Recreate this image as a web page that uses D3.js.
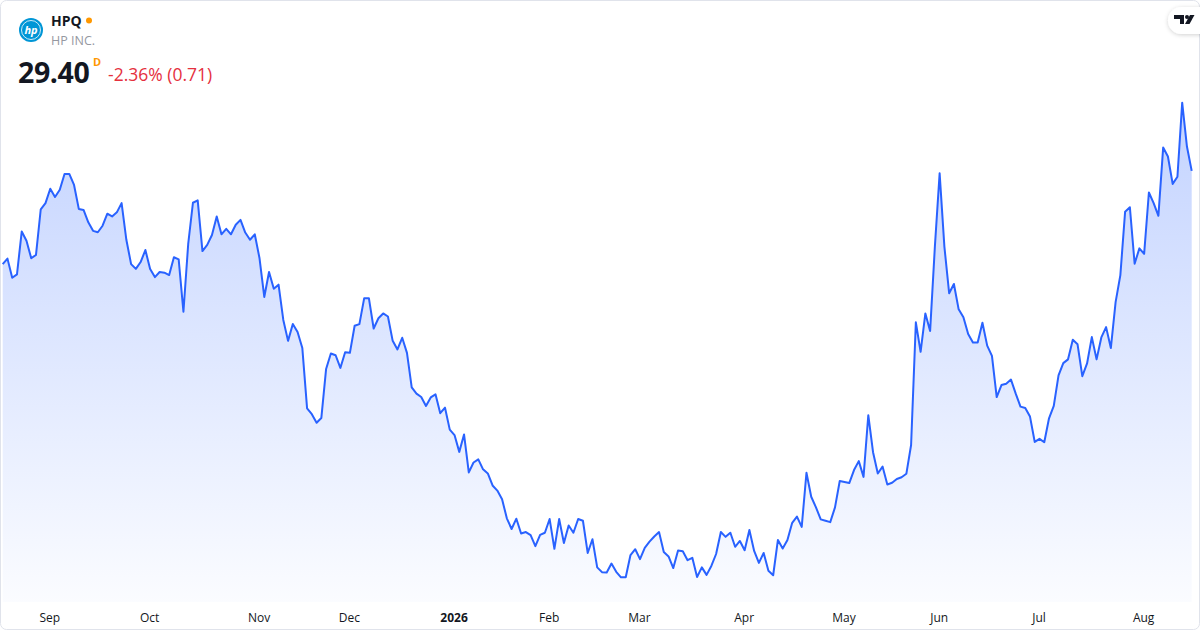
<!DOCTYPE html>
<html>
<head>
<meta charset="utf-8">
<title>HPQ</title>
<script src="https://cdn.jsdelivr.net/npm/d3@7"></script>
<style>
  body { margin: 0; background: #fff; font-family: 'Open Sans', sans-serif; }
  svg { display: block; }
  .axis text { font-size: 12px; fill: #131722; }
</style>
</head>
<body>
<svg id="chart" width="1200" height="630"></svg>
<script>
// daily closes, one per trading day
const closes = [
  26.68, 26.84, 26.28, 26.38, 27.63, 27.36, 26.85, 26.95, 28.28, 28.46,
  28.88, 28.64, 28.85, 29.31, 29.31, 28.99, 28.29, 28.26, 27.90, 27.65,
  27.61, 27.80, 28.15, 28.07, 28.19, 28.46, 27.39, 26.68, 26.54, 26.74,
  27.09, 26.54, 26.30, 26.45, 26.43, 26.36, 26.88, 26.82, 25.29, 27.26,
  28.47, 28.54, 27.06, 27.24, 27.53, 28.07, 27.55, 27.71, 27.55, 27.83,
  27.97, 27.60, 27.39, 27.55, 26.85, 25.72, 26.45, 25.96, 26.08, 25.05,
  24.44, 24.93, 24.70, 24.23, 22.47, 22.30, 22.05, 22.19, 23.62, 24.07,
  24.02, 23.65, 24.11, 24.09, 24.88, 24.93, 25.68, 25.68, 24.80, 25.10,
  25.24, 25.15, 24.44, 24.19, 24.53, 24.09, 23.08, 22.90, 22.80, 22.54,
  22.79, 22.88, 22.33, 22.49, 21.85, 21.69, 21.20, 21.71, 20.60, 20.89,
  20.98, 20.69, 20.57, 20.22, 20.07, 19.82, 19.26, 18.95, 19.25, 18.82,
  18.86, 18.77, 18.45, 18.78, 18.84, 19.24, 18.37, 19.24, 18.54, 19.05,
  18.84, 19.24, 19.19, 18.25, 18.65, 17.83, 17.69, 17.68, 17.94, 17.70,
  17.54, 17.54, 18.19, 18.36, 18.07, 18.40, 18.58, 18.73, 18.86, 18.28,
  18.15, 17.81, 18.32, 18.30, 18.04, 18.11, 17.55, 17.83, 17.61, 17.87,
  18.22, 18.86, 18.72, 18.84, 18.43, 18.60, 18.33, 18.92, 18.31, 17.96,
  18.25, 17.73, 17.60, 18.63, 18.38, 18.63, 19.13, 19.31, 19.01, 20.59,
  19.89, 19.58, 19.23, 19.19, 19.15, 19.58, 20.35, 20.32, 20.29, 20.67,
  20.93, 20.47, 22.27, 21.19, 20.57, 20.77, 20.25, 20.30, 20.41, 20.46,
  20.56, 21.40, 24.98, 24.12, 25.24, 24.73, 27.19, 29.33, 27.19, 25.83,
  26.10, 25.36, 25.13, 24.64, 24.39, 24.39, 24.97, 24.30, 24.00, 22.80,
  23.15, 23.19, 23.31, 22.90, 22.52, 22.48, 22.23, 21.49, 21.58, 21.48,
  22.18, 22.54, 23.43, 23.79, 23.90, 24.47, 24.34, 23.41, 23.78, 24.55,
  23.90, 24.54, 24.84, 24.23, 25.57, 26.36, 28.21, 28.34, 26.69, 27.14,
  26.98, 28.77, 28.46, 28.09, 30.08, 29.82, 29.02, 29.23, 31.39, 30.11,
  29.40
];

// first trading day of each month (index into closes) and its label
const tickIndex = [10, 31, 54, 73, 95, 115, 134, 156, 177, 197, 218, 240];
const tickLabels = ["Sep", "Oct", "Nov", "Dec", "2026", "Feb", "Mar", "Apr", "May", "Jun", "Jul", "Aug"];

const symbol = "HPQ";
const company = "HP INC.";
const lastPrice = "29.40";
const changeText = "-2.36% (0.71)";

const W = 1200, H = 630;
const plotLeft = 2.7, plotRight = 1191.7, plotBottom = 602;

const svg = d3.select('#chart');

// card border
svg.append('rect')
  .attr('x', 0.5).attr('y', 0.5)
  .attr('width', W - 1).attr('height', H - 1)
  .attr('rx', 6)
  .attr('fill', '#fff')
  .attr('stroke', '#e0e3eb');

const x = d3.scaleLinear().domain([0, closes.length - 1]).range([plotLeft, plotRight]);
const y = d3.scaleLinear().domain(d3.extent(closes)).range([577.3, 102.7]);

const defs = svg.append('defs');
const grad = defs.append('linearGradient')
  .attr('id', 'fillGrad')
  .attr('gradientUnits', 'userSpaceOnUse')
  .attr('x1', 0).attr('x2', 0)
  .attr('y1', y(d3.max(closes))).attr('y2', plotBottom);
grad.append('stop').attr('offset', 0).attr('stop-color', '#2962ff').attr('stop-opacity', 0.28);
grad.append('stop').attr('offset', 1).attr('stop-color', '#2962ff').attr('stop-opacity', 0.02);

const shadow = defs.append('filter').attr('id', 'shadow')
  .attr('x', '-50%').attr('y', '-50%').attr('width', '200%').attr('height', '200%');
shadow.append('feDropShadow')
  .attr('dx', 0).attr('dy', 1).attr('stdDeviation', 2)
  .attr('flood-color', '#000').attr('flood-opacity', 0.18);

const area = d3.area()
  .x((d, i) => x(i))
  .y0(plotBottom)
  .y1(d => y(d));

const line = d3.line()
  .x((d, i) => x(i))
  .y(d => y(d));

svg.append('path')
  .datum(closes)
  .attr('d', area)
  .attr('fill', 'url(#fillGrad)');

svg.append('path')
  .datum(closes)
  .attr('d', line)
  .attr('fill', 'none')
  .attr('stroke', '#2962ff')
  .attr('stroke-width', 2)
  .attr('stroke-linejoin', 'round');

// month axis
const xAxis = d3.axisBottom(x)
  .tickValues(tickIndex)
  .tickFormat((d, i) => tickLabels[i])
  .tickSize(0)
  .tickPadding(0);

const axisG = svg.append('g')
  .attr('class', 'axis')
  .attr('transform', 'translate(-1, 611)')
  .call(xAxis);
axisG.select('.domain').remove();
axisG.selectAll('text')
  .attr('font-family', "'Open Sans', sans-serif")
  .attr('dy', '0.95em')
  .attr('font-weight', (d, i) => tickLabels[i] === '2026' ? 700 : 400);

// header
const head = svg.append('g');
head.append('circle').attr('cx', 31).attr('cy', 30).attr('r', 12).attr('fill', '#0096d6');
head.append('circle').attr('cx', 31).attr('cy', 30).attr('r', 9.5)
  .attr('fill', 'none').attr('stroke', '#fff').attr('stroke-width', 0.8);
head.append('text')
  .attr('x', 31).attr('y', 34)
  .attr('text-anchor', 'middle')
  .attr('font-size', 11)
  .attr('font-style', 'italic')
  .attr('font-weight', 700)
  .attr('fill', '#fff')
  .text('hp');

head.append('text')
  .attr('x', 51).attr('y', 26)
  .attr('font-size', 14).attr('font-weight', 700)
  .attr('fill', '#131722')
  .text(symbol);
head.append('circle').attr('cx', 89).attr('cy', 20.5).attr('r', 3).attr('fill', '#ff9800');

head.append('text')
  .attr('x', 51).attr('y', 45)
  .attr('font-size', 12.5)
  .attr('fill', '#9598a1')
  .text(company);

head.append('text')
  .attr('x', 18).attr('y', 83)
  .attr('font-size', 28.5).attr('font-weight', 700)
  .attr('fill', '#131722')
  .attr('letter-spacing', -0.4)
  .text(lastPrice);
head.append('text')
  .attr('x', 93).attr('y', 66)
  .attr('font-size', 11).attr('font-weight', 700)
  .attr('fill', '#ff9800')
  .text('D');
head.append('text')
  .attr('x', 108).attr('y', 81)
  .attr('font-size', 17.5)
  .attr('fill', '#e5303e')
  .text(changeText);

// TradingView badge
const badge = svg.append('g');
badge.append('rect')
  .attr('x', 1168).attr('y', 7)
  .attr('width', 50).attr('height', 27)
  .attr('rx', 13.5)
  .attr('fill', '#fff')
  .attr('filter', 'url(#shadow)');
badge.append('path')
  .attr('d', 'M1174,15 h10 v9 h-4 v-5 h-6 z')
  .attr('fill', '#131722');
badge.append('circle').attr('cx', 1187).attr('cy', 17).attr('r', 2).attr('fill', '#131722');
badge.append('path')
  .attr('d', 'M1190,15 h4.5 l-5,9 h-4.5 z')
  .attr('fill', '#131722');
</script>
</body>
</html>
